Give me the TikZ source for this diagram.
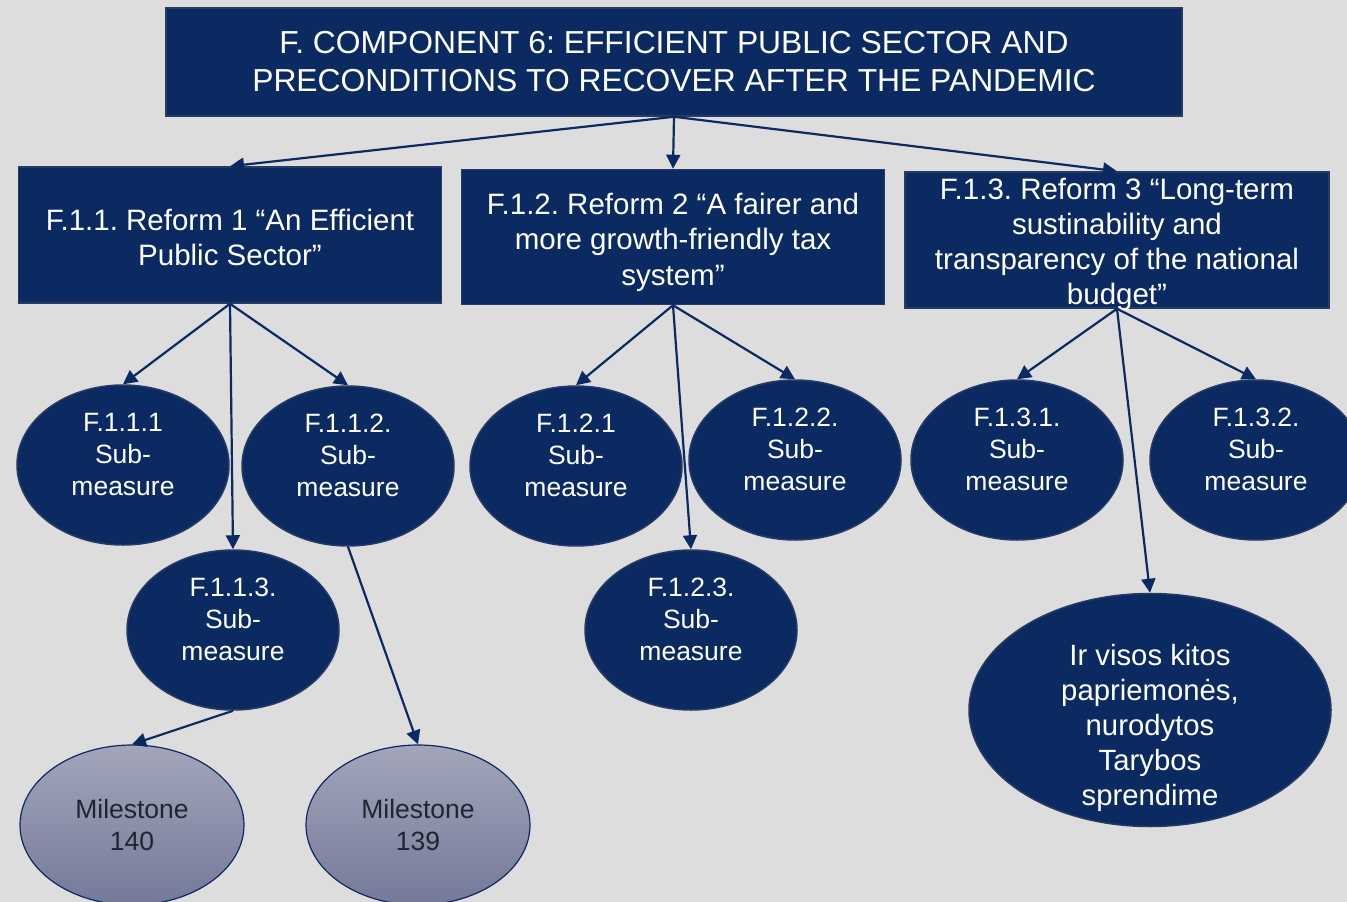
\documentclass[tikz,border=0pt]{standalone}
\usepackage{fontspec}
\setmainfont{Liberation Sans}
\frenchspacing
\usetikzlibrary{shapes.geometric,arrows.meta}
\definecolor{navy}{RGB}{11,42,98}
\definecolor{navyedge}{RGB}{38,58,100}
\definecolor{bggray}{RGB}{221,221,221}
\definecolor{mstop}{RGB}{163,166,186}
\definecolor{msbottom}{RGB}{116,121,153}
\definecolor{mstext}{RGB}{28,40,48}
\newcommand{\lifted}[2]{\raisebox{#1}[0pt][0pt]{\begin{tabular}{@{}c@{}}#2\end{tabular}}}

\begin{document}
\begin{tikzpicture}[x=1pt,y=-1pt,
    box/.style={draw=navyedge,line width=1.5pt,fill=navy,text=white,align=center,inner sep=0pt},
    sub/.style={ellipse,draw=navyedge,line width=1.5pt,fill=navy,text=white,inner sep=0pt,
        minimum width=212pt,minimum height=160pt,font=\fontsize{26.5}{32}\selectfont},
    mile/.style={ellipse,draw=navy,line width=1.2pt,top color=mstop,bottom color=msbottom,text=mstext,
        align=center,inner sep=0pt,minimum width=224pt,minimum height=160pt,font=\fontsize{26.5}{32}\selectfont},
    link/.style={draw=navy,line width=2.2pt,-{Triangle[length=14pt,width=14pt]}}]
    \useasboundingbox (0,0) rectangle (1347,902);
    \clip (0,0) rectangle (1347,902);
    \fill[bggray] (0,0) rectangle (1347,902);

    \node[box,minimum width=1016pt,minimum height=108pt,font=\fontsize{31.8}{38}\selectfont] (title) at (674,62)
        {F. COMPONENT 6: EFFICIENT PUBLIC SECTOR AND\\PRECONDITIONS TO RECOVER AFTER THE PANDEMIC};

    \node[box,minimum width=423pt,minimum height=136pt,font=\fontsize{29.5}{35.5}\selectfont] (r1) at (230,235)
        {\lifted{-12pt}{F.1.1. Reform 1 “An Efficient\\Public Sector”}};
    \node[box,minimum width=423pt,minimum height=135pt,font=\fontsize{29.5}{35.5}\selectfont] (r2) at (673,237)
        {\lifted{-12pt}{F.1.2. Reform 2 “A fairer and\\more growth-friendly tax\\system”}};
    \node[box,minimum width=424pt,minimum height=136pt,font=\fontsize{29.5}{35}\selectfont] (r3) at (1117,240)
        {\lifted{-11pt}{F.1.3. Reform 3 “Long-term\\sustinability and\\transparency of the national\\budget”}};

    \node[sub] (s111) at (123,465) {\lifted{1.5pt}{F.1.1.1\\Sub-\\measure}};
    \node[sub] (s112) at (348,466) {\lifted{1.5pt}{F.1.1.2.\\Sub-\\measure}};
    \node[sub] (s113) at (233,630) {\lifted{1.5pt}{F.1.1.3.\\Sub-\\measure}};
    \node[sub] (s121) at (576,466) {\lifted{1.5pt}{F.1.2.1\\Sub-\\measure}};
    \node[sub] (s122) at (795,460) {\lifted{1.5pt}{F.1.2.2.\\Sub-\\measure}};
    \node[sub] (s123) at (691,630) {\lifted{1.5pt}{F.1.2.3.\\Sub-\\measure}};
    \node[sub] (s131) at (1017,460) {\lifted{1.5pt}{F.1.3.1.\\Sub-\\measure}};
    \node[sub] (s132) at (1256,460) {\lifted{1.5pt}{F.1.3.2.\\Sub-\\measure}};

    \node[sub,minimum width=362pt,minimum height=233pt,font=\fontsize{29.3}{35}\selectfont] (rest) at (1150,710)
        {\lifted{-25pt}{Ir visos kitos\\papriemonės,\\nurodytos\\Tarybos\\sprendime}};

    \node[mile] (m140) at (132,825) {Milestone\\140};
    \node[mile] (m139) at (418,825) {Milestone\\139};

    \draw[link] (title.south) -- (r1.north);
    \draw[link] (title.south) -- (r2.north);
    \draw[link] (title.south) -- (r3.north);

    \draw[link] (r1.south) -- (s111.north);
    \draw[link] (r1.south) -- (s113.north);
    \draw[link] (r1.south) -- (s112.north);
    \draw[link] (r2.south) -- (s121.north);
    \draw[link] (r2.south) -- (s123.north);
    \draw[link] (r2.south) -- (s122.north);
    \draw[link] (r3.south) -- (s131.north);
    \draw[link] (r3.south) -- (rest.north);
    \draw[link] (r3.south) -- (s132.north);

    \draw[link] (s113.south) -- (m140.north);
    \draw[link] (s112.south) -- (m139.north);
\end{tikzpicture}
\end{document}
